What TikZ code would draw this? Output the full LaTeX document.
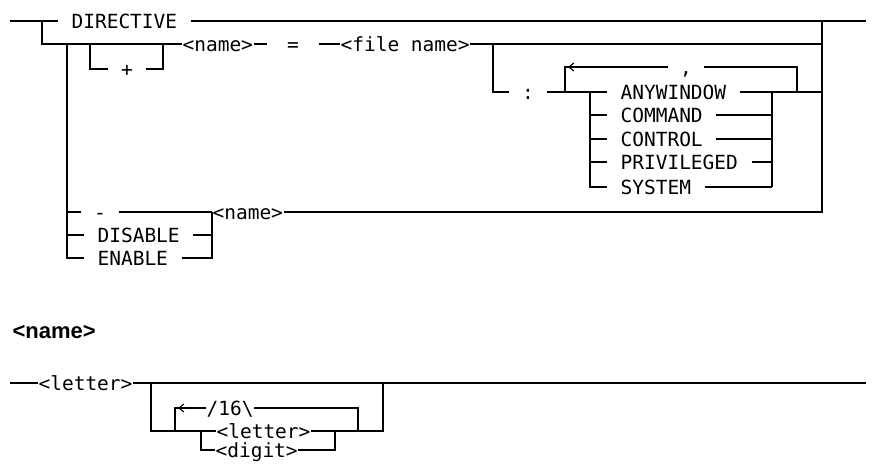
\documentclass[tikz,border=0pt]{standalone}
\usepackage{fontspec}
\newfontfamily\railfont{DejaVu Sans Mono}
\newfontfamily\headfont{Liberation Sans}
\usetikzlibrary{arrows.meta, positioning}

\begin{document}
\begin{tikzpicture}[x=1pt, y=-1pt, line width=1.1pt,
    kw/.style={inner xsep=13pt, inner ysep=0pt, text height=14.2pt, text depth=0pt, font=\railfont\fontsize{19.5}{20}\selectfont},
    nt/.style={kw, inner xsep=0pt},
    back/.style={-{Straight Barb[length=5pt,width=8pt]}}
]
    \useasboundingbox (0,0) rectangle (875,464);

    % DIRECTIVE statement
    \coordinate (s1) at (10,21);
    \coordinate (j1) at (42,21);
    \coordinate (r1) at (822,21);
    \coordinate (e1) at (866,21);
    \node[kw, anchor=west] (dir) at (58,21) {DIRECTIVE};
    \draw (s1) -- (j1) -- (dir.west);
    \draw (dir.east) -- (r1) -- (e1);

    \coordinate (j2) at (42,44);
    \coordinate (r2) at (822,44);
    \node[nt, anchor=west] (nameA) at (182,44) {<name>};
    \node[kw, inner xsep=20pt] (eq) at (293,44) {=};
    \node[nt, anchor=west] (file) at (340,44) {<file name>};
    \draw (j1) -- (j2) -- (nameA.west);
    \draw (nameA.east) -- (eq.west);
    \draw (eq.east) -- (file.west);
    \draw (file.east) -- (r2);

    % optional +
    \coordinate (p1) at (90,44);
    \coordinate (p2) at (163,44);
    \node[kw] (plus) at (127,69) {+};
    \draw (p1) |- (plus.west);
    \draw (plus.east) -| (p2);

    % colon and window kinds
    \coordinate (c1) at (493,44);
    \node[kw] (colon) at (528,92) {:};
    \draw (c1) |- (colon.west);
    \node[kw, anchor=west] (anyw) at (607,92) {ANYWINDOW};
    \node[kw, anchor=west] (cmd) at (607,115) {COMMAND};
    \node[kw, anchor=west] (ctl) at (607,139) {CONTROL};
    \node[kw, anchor=west] (priv) at (607,162) {PRIVILEGED};
    \node[kw, anchor=west] (sys) at (607,187) {SYSTEM};
    \coordinate (la) at (590,92);
    \coordinate (lb) at (590,187);
    \coordinate (ra) at (772,92);
    \coordinate (rb) at (772,187);
    \coordinate (r3) at (822,92);
    \draw (colon.east) -- (anyw.west);
    \draw (la) -- (lb) -- (sys.west);
    \foreach \n in {cmd,ctl,priv}
        \draw (la |- \n.west) -- (\n.west);
    \foreach \n in {anyw,cmd,ctl,priv,sys}
        \draw (\n.east) -- (ra |- \n.east);
    \draw (rb) -- (ra) -- (r3);

    % repeat loop
    \coordinate (k1) at (565,92);
    \coordinate (k2) at (797,92);
    \coordinate (a1) at (582,67);
    \coordinate (a2) at (568,67);
    \node[kw, inner xsep=12pt] (comma) at (686,67) {,};
    \draw (k2) |- (comma.east);
    \draw (comma.west) -| (k1);
    \draw[back] (a1) -- (a2);

    % - / DISABLE / ENABLE
    \coordinate (d1) at (67,44);
    \coordinate (d2) at (67,258);
    \coordinate (m1) at (212,212);
    \coordinate (m2) at (212,258);
    \coordinate (r4) at (822,212);
    \node[kw] (minus) at (100,212) {-};
    \node[kw, anchor=west] (dis) at (84,235) {DISABLE};
    \node[kw, anchor=west] (ena) at (84,258) {ENABLE};
    \draw (d1) -- (d2) -- (ena.west);
    \draw (d1 |- minus.west) -- (minus.west);
    \draw (d1 |- dis.west) -- (dis.west);
    \draw (minus.east) -- (m1);
    \draw (dis.east) -- (dis.east -| m1);
    \draw (ena.east) -- (m2) -- (m1);
    \node[nt, anchor=west] (nameB) at (m1) {<name>};
    \draw (nameB.east) -- (r4) -- (r1);

    % <name> definition
    \node[anchor=west, inner sep=0pt, font=\headfont\bfseries\fontsize{22}{24}\selectfont] (head) at (12,332) {<name>};

    \coordinate (s2) at (10,383);
    \coordinate (b1) at (151,383);
    \coordinate (b2) at (383,383);
    \coordinate (e2) at (866,383);
    \node[nt, anchor=west] (letA) at (38,383) {<letter>};
    \draw (s2) -- (letA.west);
    \draw (letA.east) -- (e2);

    \coordinate (b3) at (151,431);
    \coordinate (b4) at (383,431);
    \coordinate (g1) at (201,431);
    \coordinate (g2) at (201,450);
    \coordinate (g3) at (335,431);
    \coordinate (g4) at (335,450);
    \node[nt, anchor=west] (letB) at (216,431) {<letter>};
    \node[nt, anchor=west] (dig) at (215,450) {<digit>};
    \draw (b1) -- (b3) -- (letB.west);
    \draw (g1) -- (g2) -- (dig.west);
    \draw (letB.east) -- (b4) -- (b2);
    \draw (dig.east) -- (g4) -- (g3);

    % repeat up to 16
    \coordinate (q1) at (175,431);
    \coordinate (q2) at (358,431);
    \coordinate (a3) at (192,408);
    \coordinate (a4) at (178,408);
    \node[nt, anchor=west] (rep) at (206,408) {/16\textbackslash};
    \draw (rep.east) -| (q2);
    \draw (rep.west) -| (q1);
    \draw[back] (a3) -- (a4);
\end{tikzpicture}
\end{document}
